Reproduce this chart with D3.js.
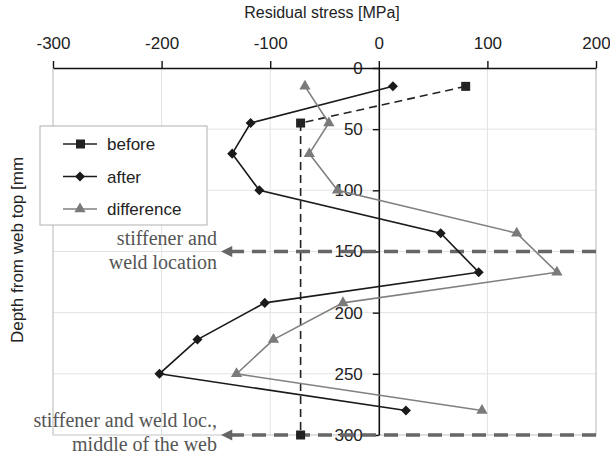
<!DOCTYPE html>
<html>
<head>
<meta charset="utf-8">
<script src="https://d3js.org/d3.v7.min.js"></script>
<style>
  body { margin: 0; background: #fff; }
  svg text { font-family: "Liberation Sans", Arial, sans-serif; }
</style>
</head>
<body>
<script>
// data (depth in mm, stress in MPa)
var depthAfter = [15, 45, 70, 100, 135, 167, 192, 222, 250, 280];
var afterVals  = [13, -118, -135, -110, 57, 92, -105, -167, -202, 25];
var diffVals   = [-68, -46, -64, -38, 127, 164, -33, -97, -131, 95];
var depthBefore = [15, 45, 300];
var beforeVals  = [80, -72, -72];

var xTicks = [-300, -200, -100, 0, 100, 200];
var yTicks = [0, 50, 100, 150, 200, 250, 300];

// annotation lines (depth) with the stress where the arrow stops
var markDepths = [150, 300];
var markFrom = -147;
var markLabels = [["stiffener and", "weld location"], ["stiffener and weld loc.,", "middle of the web"]];

var W = 610, H = 457;
var pL = 53, pR = 596, pT = 68, pB = 435;

var svg = d3.select("body").append("svg")
  .attr("width", W).attr("height", H);

var x = d3.scaleLinear().domain([-300, 200]).range([pL, pR]);
var y = d3.scaleLinear().domain([0, 300]).range([pT, pB]);
var plain = function(d) { return String(d); };

svg.append("defs").append("marker")
  .attr("id", "arr")
  .attr("viewBox", "0 0 10 10")
  .attr("refX", 9).attr("refY", 5)
  .attr("markerWidth", 4.5).attr("markerHeight", 3.2)
  .attr("markerUnits", "strokeWidth")
  .attr("orient", "auto")
  .append("path").attr("d", "M10,5L0,0L0,10Z").attr("fill", "#666");

// grid
svg.append("g").selectAll("line")
  .data(yTicks.filter(function(d) { return d > 0 && d < 300; }))
  .enter().append("line")
  .attr("x1", pL).attr("x2", pR)
  .attr("y1", function(d) { return y(d); }).attr("y2", function(d) { return y(d); })
  .attr("stroke", "#e2e2e2").attr("stroke-width", 1);
svg.append("g").selectAll("line")
  .data([-200, -100, 100])
  .enter().append("line")
  .attr("x1", function(d) { return x(d); }).attr("x2", function(d) { return x(d); })
  .attr("y1", pT).attr("y2", pB)
  .attr("stroke", "#e2e2e2").attr("stroke-width", 1);
// frame
svg.append("path")
  .attr("d", "M" + pL + "," + pT + "V" + pB + "H" + pR + "V" + pT)
  .attr("fill", "none").attr("stroke", "#c4c4c4").attr("stroke-width", 1.2);

// y axis at x = 0
var yAxis = svg.append("g")
  .attr("transform", "translate(" + x(0) + ",0)")
  .call(d3.axisLeft(y).tickValues(yTicks).tickFormat(plain)
    .tickSize(6).tickSizeOuter(0).tickPadding(10));
yAxis.select(".domain").attr("stroke", "#111").attr("stroke-width", 1.6);
yAxis.selectAll(".tick line").attr("stroke", "#111").attr("stroke-width", 1.4);
yAxis.selectAll("text").style("font-size", "17px").attr("fill", "#222")
  .style("font-family", "Liberation Sans, Arial, sans-serif");

// x axis on top
var xAxis = svg.append("g")
  .attr("transform", "translate(0," + pT + ")")
  .call(d3.axisTop(x).tickValues(xTicks).tickFormat(plain)
    .tickSize(7).tickSizeOuter(0).tickPadding(12));
xAxis.select(".domain").attr("stroke", "#111").attr("stroke-width", 1.6);
xAxis.selectAll(".tick line").attr("stroke", "#111").attr("stroke-width", 1.4);
xAxis.selectAll("text").style("font-size", "17px").attr("fill", "#222")
  .style("font-family", "Liberation Sans, Arial, sans-serif");

svg.append("text")
  .attr("x", 322).attr("y", 18)
  .attr("text-anchor", "middle")
  .style("font-size", "16px").attr("fill", "#222")
  .text("Residual stress [MPa]");

svg.append("text")
  .attr("transform", "translate(23,250) rotate(-90)")
  .attr("text-anchor", "middle")
  .style("font-size", "17px").attr("fill", "#222")
  .text("Depth from web top [mm");

// stiffener / weld lines
svg.append("g").selectAll("line")
  .data(markDepths)
  .enter().append("line")
  .attr("x1", pR).attr("x2", x(markFrom) + 3)
  .attr("y1", function(d) { return y(d); }).attr("y2", function(d) { return y(d); })
  .attr("stroke", "#666").attr("stroke-width", 3.5)
  .attr("stroke-dasharray", "14,8")
  .attr("marker-end", "url(#arr)");

markDepths.forEach(function(d, i) {
  var t = svg.append("text")
    .attr("text-anchor", "end")
    .style("font-family", "Liberation Serif, Times New Roman, serif")
    .style("font-size", "20px").attr("fill", "#555");
  t.append("tspan").attr("x", 217).attr("y", y(d) - (i == 0 ? 7 : 8)).text(markLabels[i][0]);
  t.append("tspan").attr("x", 217).attr("y", y(d) + (i == 0 ? 17 : 16)).text(markLabels[i][1]);
});

var line = d3.line()
  .x(function(d) { return x(d[0]); })
  .y(function(d) { return y(d[1]); });

var beforePts = d3.zip(beforeVals, depthBefore);
var afterPts = d3.zip(afterVals, depthAfter);
var diffPts = d3.zip(diffVals, depthAfter);

// before
svg.append("path").datum(beforePts)
  .attr("d", line).attr("fill", "none")
  .attr("stroke", "#222").attr("stroke-width", 1.6)
  .attr("stroke-dasharray", "8,5");
svg.append("g").selectAll("rect").data(beforePts)
  .enter().append("rect")
  .attr("x", function(d) { return x(d[0]) - 4.5; })
  .attr("y", function(d) { return y(d[1]) - 4.5; })
  .attr("width", 9).attr("height", 9)
  .attr("fill", "#222");

// after
svg.append("path").datum(afterPts)
  .attr("d", line).attr("fill", "none")
  .attr("stroke", "#1a1a1a").attr("stroke-width", 1.6);
var diamond = d3.symbol().type(d3.symbolDiamond2).size(64);
svg.append("g").selectAll("path").data(afterPts)
  .enter().append("path")
  .attr("d", diamond)
  .attr("transform", function(d) { return "translate(" + x(d[0]) + "," + y(d[1]) + ")"; })
  .attr("fill", "#1a1a1a");

// difference
svg.append("path").datum(diffPts)
  .attr("d", line).attr("fill", "none")
  .attr("stroke", "#808080").attr("stroke-width", 1.6);
var tri = d3.symbol().type(d3.symbolTriangle).size(55);
svg.append("g").selectAll("path").data(diffPts)
  .enter().append("path")
  .attr("d", tri)
  .attr("transform", function(d) { return "translate(" + x(d[0]) + "," + y(d[1]) + ")"; })
  .attr("fill", "#7a7a7a");

// legend
var legend = svg.append("g");
legend.append("rect")
  .attr("x", 40).attr("y", 126).attr("width", 167).attr("height", 99)
  .attr("fill", "#fff").attr("stroke", "#b0b0b0").attr("stroke-width", 1);
var items = [
  { name: "before", color: "#222", shape: "square" },
  { name: "after", color: "#1a1a1a", shape: "diamond" },
  { name: "difference", color: "#808080", shape: "triangle" }
];
items.forEach(function(it, i) {
  var cy = 144 + i * 32.5;
  legend.append("line")
    .attr("x1", 63).attr("x2", 97).attr("y1", cy).attr("y2", cy)
    .attr("stroke", it.color).attr("stroke-width", 1.6);
  if (it.shape == "square") {
    legend.append("rect").attr("x", 76).attr("y", cy - 4.5)
      .attr("width", 9).attr("height", 9).attr("fill", it.color);
  } else {
    legend.append("path")
      .attr("d", it.shape == "diamond" ? diamond : tri)
      .attr("transform", "translate(80," + cy + ")")
      .attr("fill", it.shape == "triangle" ? "#7a7a7a" : it.color);
  }
  legend.append("text")
    .attr("x", 107).attr("y", cy + 6)
    .style("font-size", "17px").attr("fill", "#222")
    .text(it.name);
});
</script>
</body>
</html>
